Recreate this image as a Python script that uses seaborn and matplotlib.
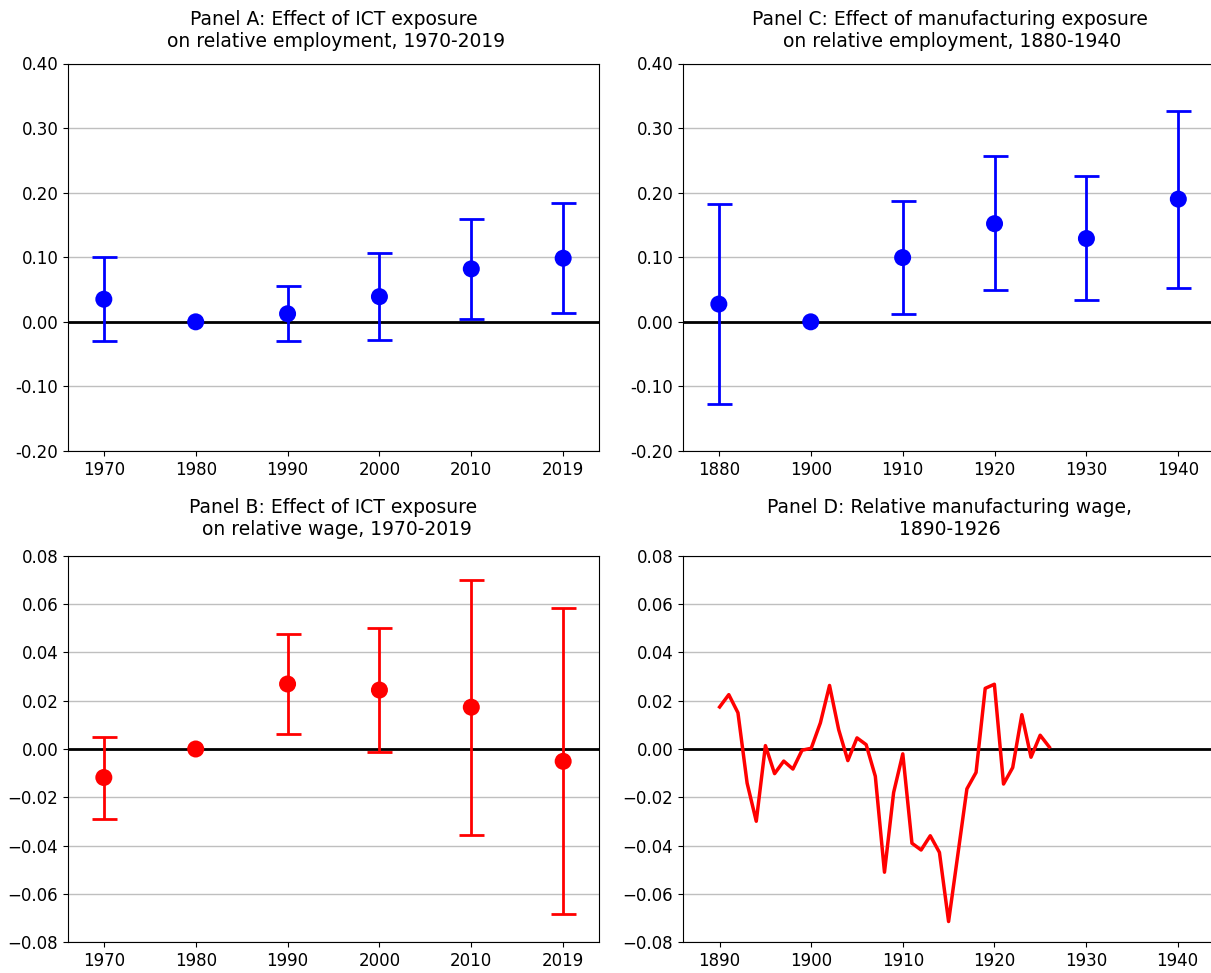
import numpy as np
import pandas as pd
import matplotlib
matplotlib.use("Agg")
import matplotlib.pyplot as plt
from matplotlib.ticker import FuncFormatter
import seaborn as sns

# --- dados ---
anos_ict = ['1970', '1980', '1990', '2000', '2010', '2019']
emp_ict = [0.035, 0.0, 0.0125, 0.039, 0.082, 0.0985]
emp_ict_lo = [-0.030, np.nan, -0.029, -0.028, 0.004, 0.0135]
emp_ict_hi = [0.101, np.nan, 0.055, 0.106, 0.159, 0.184]

salario_ict = [-0.0118, 0.0, 0.0269, 0.0244, 0.0173, -0.0051]
salario_ict_lo = [-0.0291, np.nan, 0.0063, -0.0011, -0.0356, -0.0681]
salario_ict_hi = [0.0049, np.nan, 0.0475, 0.0500, 0.0699, 0.0582]

anos_manuf = ['1880', '1900', '1910', '1920', '1930', '1940']
emp_manuf = [0.0275, 0.0, 0.0995, 0.152, 0.129, 0.190]
emp_manuf_lo = [-0.127, np.nan, 0.012, 0.049, 0.0335, 0.053]
emp_manuf_hi = [0.182, np.nan, 0.187, 0.257, 0.226, 0.326]

anos_salario = list(range(1890, 1927))
salario_manuf = [0.0174, 0.0225, 0.0150, -0.0141, -0.0299, 0.0014, -0.0102, -0.0050,
                 -0.0083, -0.0005, 0.0003, 0.0108, 0.0263, 0.0080, -0.0048, 0.0046,
                 0.0018, -0.0113, -0.0510, -0.0180, -0.0020, -0.0390, -0.0418, -0.0359,
                 -0.0428, -0.0714, -0.0440, -0.0165, -0.0097, 0.0251, 0.0268, -0.0145,
                 -0.0077, 0.0142, -0.0034, 0.0057, 0.0008]

plt.rcParams['font.family'] = ['DejaVu Sans']

fig = plt.figure(figsize=(12.11, 9.73), dpi=100)
W, H = 1211, 973
axA = fig.add_axes([68 / W, 1 - 451 / H, 531 / W, 387.5 / H])
axC = fig.add_axes([683 / W, 1 - 451 / H, 533 / W, 387.5 / H])
axB = fig.add_axes([68 / W, 1 - 942.3 / H, 531 / W, 386.6 / H])
axD = fig.add_axes([683 / W, 1 - 942.3 / H, 533 / W, 386.6 / H])


def painel_coef(ax, anos, valores, lo, hi, cor, titulo):
    df = pd.DataFrame({'ano': anos, 'valor': valores, 'lo': lo, 'hi': hi})
    df['pos'] = range(len(df))
    com_ic = df.dropna()
    ax.axhline(0, color='black', lw=2, zorder=2)
    ax.errorbar(com_ic['pos'], com_ic['valor'],
                yerr=[com_ic['valor'] - com_ic['lo'], com_ic['hi'] - com_ic['valor']],
                fmt='none', ecolor=cor, elinewidth=2, capsize=9, capthick=2, zorder=3)
    sns.scatterplot(data=df, x='pos', y='valor', color=cor, s=150, edgecolor='none',
                    ax=ax, zorder=4, legend=False)
    ax.set_xticks(df['pos'])
    ax.set_xticklabels(anos)
    ax.set_xlabel('')
    ax.set_ylabel('')
    ax.set_title(titulo, fontsize=13.5, pad=12)
    ax.grid(axis='y', color='#bfbfbf', lw=1)
    ax.set_axisbelow(True)
    ax.tick_params(labelsize=12)


painel_coef(axA, anos_ict, emp_ict, emp_ict_lo, emp_ict_hi, 'blue',
            'Panel A: Effect of ICT exposure\n on relative employment, 1970-2019')
painel_coef(axC, anos_manuf, emp_manuf, emp_manuf_lo, emp_manuf_hi, 'blue',
            'Panel C: Effect of manufacturing exposure\n on relative employment, 1880-1940')
painel_coef(axB, anos_ict, salario_ict, salario_ict_lo, salario_ict_hi, 'red',
            'Panel B: Effect of ICT exposure\n on relative wage, 1970-2019')
axA.set_xlim(-0.39, 5.39)
axB.set_xlim(-0.39, 5.39)
axC.set_xlim(-0.39, 5.41)

for ax in [axA, axC]:
    ax.set_ylim(-0.2, 0.4)
    ax.set_yticks(np.arange(-0.2, 0.41, 0.1))
    ax.yaxis.set_major_formatter(FuncFormatter(lambda v, p: '%.2f' % v))

axB.set_ylim(-0.08, 0.08)
axB.set_yticks(np.arange(-0.08, 0.081, 0.02))
axB.set_title(axB.get_title(), fontsize=13.5, pad=15)

# Painel D: salário relativo na manufatura
df_d = pd.DataFrame({'ano': anos_salario, 'salario': salario_manuf})
axD.axhline(0, color='black', lw=2, zorder=2)
sns.lineplot(data=df_d, x='ano', y='salario', color='red', lw=2.5, ax=axD, zorder=3)
axD.set_xlim(1886, 1944.2)
axD.set_xticks(range(1890, 1941, 10))
axD.set_ylim(-0.08, 0.08)
axD.set_yticks(np.arange(-0.08, 0.081, 0.02))
axD.set_xlabel('')
axD.set_ylabel('')
axD.set_title('Panel D: Relative manufacturing wage,\n1890-1926', fontsize=13.5, pad=15)
axD.grid(axis='y', color='#bfbfbf', lw=1)
axD.set_axisbelow(True)
axD.tick_params(labelsize=12)

fig.savefig('out.png', dpi=100)
